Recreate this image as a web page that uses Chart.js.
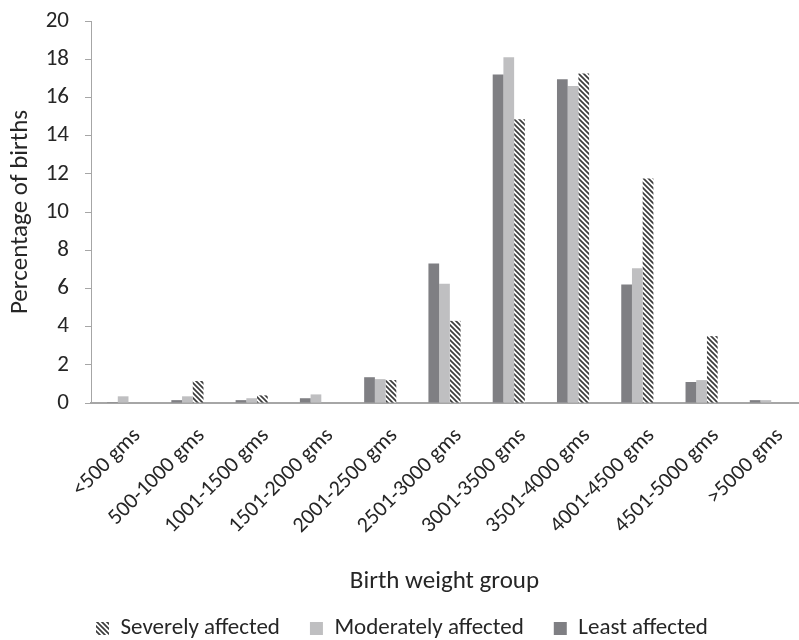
<!DOCTYPE html>
<html lang="en">
<head>
  <meta charset="UTF-8">
  <title>Birth weight groups</title>
  <script src="https://cdn.jsdelivr.net/npm/chart.js@4"></script>
  <style>
    body {
      margin: 0;
      background: #fff;
    }
    #wrap {
      width: 799px;
      height: 640px;
    }
  </style>
</head>
<body>
  <div id="wrap"><canvas id="birthChart" width="799" height="640"></canvas></div>

  <script>
    // Data
    const weightGroups = ['<500 gms', '500-1000 gms', '1001-1500 gms', '1501-2000 gms', '2001-2500 gms',
      '2501-3000 gms', '3001-3500 gms', '3501-4000 gms', '4001-4500 gms', '4501-5000 gms', '>5000 gms'];
    const leastAffected = [0.05, 0.15, 0.15, 0.25, 1.35, 7.3, 17.2, 16.95, 6.2, 1.1, 0.15];
    const moderatelyAffected = [0.35, 0.35, 0.25, 0.45, 1.25, 6.25, 18.1, 16.6, 7.05, 1.2, 0.15];
    const severelyAffected = [0, 1.15, 0.4, 0, 1.2, 4.3, 14.85, 17.25, 11.75, 3.5, 0];
    const yTicks = [0, 2, 4, 6, 8, 10, 12, 14, 16, 18, 20];

    const FONT = 'Carlito, Lato, sans-serif';
    const AXIS_GREY = '#a6a6a6';
    const TEXT = '#262626';

    // Diagonal hatch for the "severely affected" series
    function makeHatch() {
      const size = 5;
      const c = document.createElement('canvas');
      c.width = size;
      c.height = size;
      const g = c.getContext('2d');
      g.fillStyle = '#ffffff';
      g.fillRect(0, 0, size, size);
      g.strokeStyle = '#3c3c3c';
      g.lineWidth = 1.7;
      g.beginPath();
      g.moveTo(0, 0); g.lineTo(size, size);
      g.moveTo(-1, size - 1); g.lineTo(1, size + 1);
      g.moveTo(size - 1, -1); g.lineTo(size + 1, 1);
      g.stroke();
      return g.createPattern(c, 'repeat');
    }

    const ctx = document.getElementById('birthChart').getContext('2d');
    const hatch = makeHatch();

    // nudge the legend so it sits where the original one does
    const legendShift = {
      id: 'legendShift',
      afterLayout(chart) {
        const lg = chart.legend;
        if (lg) {
          lg.left = 66;
          lg.top += 10;
        }
      }
    };

    new Chart(ctx, {
      type: 'bar',
      data: {
        labels: weightGroups,
        datasets: [
          { label: 'Least affected', data: leastAffected, backgroundColor: '#7f7f83' },
          { label: 'Moderately affected', data: moderatelyAffected, backgroundColor: '#bfbfc1' },
          { label: 'Severely affected', data: severelyAffected, backgroundColor: hatch }
        ]
      },
      options: {
        responsive: false,
        animation: false,
        devicePixelRatio: 1,
        categoryPercentage: 0.5,
        barPercentage: 1.0,
        layout: {
          padding: { top: 0, right: 1, left: 6, bottom: 0 }
        },
        plugins: {
          tooltip: { enabled: false },
          legend: {
            position: 'bottom',
            align: 'start',
            reverse: true,
            labels: {
              font: { family: FONT, size: 23 },
              color: TEXT,
              boxWidth: 13,
              boxHeight: 13,
              padding: 30
            }
          }
        },
        scales: {
          x: {
            afterFit(scale) { scale.height = 174; },
            grid: { display: false },
            border: { display: true, color: AXIS_GREY, width: 2 },
            ticks: {
              color: TEXT,
              font: { family: FONT, size: 22 },
              minRotation: 45,
              maxRotation: 45,
              autoSkip: false,
              padding: 12,
              labelOffset: 14
            },
            title: {
              display: true,
              text: 'Birth weight group',
              color: TEXT,
              font: { family: FONT, size: 25 },
              padding: { top: 0, bottom: -20 }
            }
          },
          y: {
            afterFit(scale) {
              scale.width = 85;
              scale.paddingTop = 21;
            },
            min: 0,
            max: 20,
            afterBuildTicks(scale) { scale.ticks = yTicks.map(v => ({ value: v })); },
            ticks: {
              color: TEXT,
              font: { family: FONT, size: 23 },
              padding: 16
            },
            grid: {
              drawOnChartArea: false,
              drawTicks: true,
              tickLength: 6,
              color: AXIS_GREY
            },
            border: { display: true, color: AXIS_GREY, width: 1 },
            title: {
              display: true,
              text: 'Percentage of births',
              color: TEXT,
              font: { family: FONT, size: 25 },
              padding: { top: 0, bottom: 0 }
            }
          }
        }
      },
      plugins: [legendShift]
    });
  </script>
</body>
</html>
